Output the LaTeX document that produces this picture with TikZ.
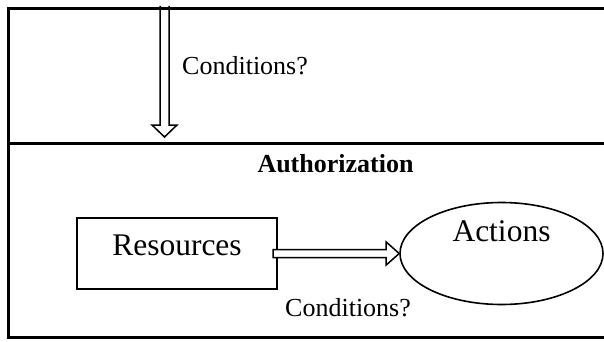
\documentclass[tikz,border=0pt]{standalone}
\usepackage{fontspec}
\setmainfont{Liberation Serif}
\usetikzlibrary{calc,shapes.geometric}
\begin{document}
\begin{tikzpicture}[x=1pt,y=-1pt,
  frame/.style={line width=3pt},
  dblarrow/.style={line width=1.5pt, fill=white, line join=miter},
  lbl/.style={font=\fontsize{26}{30}\selectfont, inner sep=0pt, anchor=base west},
  bigtext/.style={font=\fontsize{31.5}{36}\selectfont, inner sep=0pt}]
\useasboundingbox (0,0) rectangle (604,342);
\clip (0,0) rectangle (604,342);
\fill[white] (0,0) rectangle (604,342);
% nodes
\node[bigtext, draw, line width=2.2pt, minimum width=200pt, text height=37pt, text depth=34pt, anchor=base] (res) at (177,255) {Resources};
\node[bigtext, draw, line width=1.6pt, ellipse, minimum width=203pt, minimum height=102pt, text height=22pt, text depth=46pt] (act) at (501.5,253.5) {Actions};
\node[lbl] (c1) at (182,75) {Conditions?};
\node[lbl, anchor=base, font=\fontsize{26}{30}\selectfont\bfseries] (auth) at (335.5,172) {Authorization};
\node[lbl] (c2) at (285,316) {Conditions?};
% down arrow
\coordinate (ctop) at (164.5,9);
\coordinate (cbot) at (164.5,137);
\draw[dblarrow] ($(ctop)+(-4.5,-3)$) -- ($(cbot)+(-4.5,-12)$) -- ($(cbot)+(-12.5,-12)$) -- (cbot) -- ($(cbot)+(12.5,-12)$) -- ($(cbot)+(4.5,-12)$) -- ($(ctop)+(4.5,-3)$);
% horizontal arrow
\coordinate (tip) at (act.west);
\draw[dblarrow] ($(res.east)+(-5,-4)$) -- ($(res.east -| tip)+(-13,-4)$) -- ($(res.east -| tip)+(-13,-11.5)$) -- (res.east -| tip) -- ($(res.east -| tip)+(-13,11.5)$) -- ($(res.east -| tip)+(-13,4)$) -- ($(res.east)+(-5,4)$) -- cycle;
% frame
\draw[frame] (620,9) -- (8,9) -- (8,337) -- (620,337);
\draw[frame] (8,143) -- (620,143);
\end{tikzpicture}
\end{document}
